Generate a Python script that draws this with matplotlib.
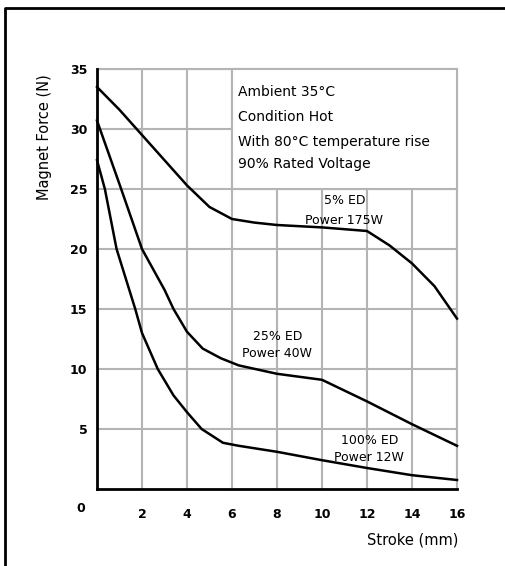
import matplotlib
matplotlib.use('Agg')
import matplotlib.pyplot as plt
from matplotlib.patches import Rectangle
from matplotlib.lines import Line2D

# curve data
stroke5 = [0, 1, 2, 3, 4, 5, 6, 7, 8, 10, 12, 13, 14, 15, 16]
force5 = [33.5, 31.6, 29.5, 27.4, 25.3, 23.5, 22.5, 22.2, 22.0, 21.8, 21.5, 20.3, 18.8, 16.9, 14.2]

stroke25 = [0, 1, 2, 3, 3.4, 4, 4.7, 5.5, 6.3, 8, 10, 12, 14, 16]
force25 = [30.7, 25.4, 20.0, 16.6, 15.0, 13.1, 11.7, 10.9, 10.3, 9.6, 9.1, 7.3, 5.4, 3.6]

stroke100 = [0, 0.35, 0.87, 1.7, 2.0, 2.7, 3.4, 4.0, 4.65, 5.6, 6.3, 8, 10, 12, 14, 16]
force100 = [27.4, 25.0, 20.0, 15.0, 13.0, 10.0, 7.8, 6.4, 5.0, 3.85, 3.6, 3.1, 2.4, 1.75, 1.15, 0.75]

xticks = [2, 4, 6, 8, 10, 12, 14, 16]
yticks = [5, 10, 15, 20, 25, 30, 35]

notes = ['Ambient 35°C', 'Condition Hot', 'With 80°C temperature rise', '90% Rated Voltage']
curve_labels = [('5% ED', 'Power 175W'), ('25% ED', 'Power 40W'), ('100% ED', 'Power 12W')]

W, H = 506, 566
fig = plt.figure(figsize=(W / 100, H / 100), dpi=100)
ax = fig.add_axes([97 / W, 1 - 489 / H, 360 / W, 420 / H])

ax.set_xlim(0, 16)
ax.set_ylim(0, 35)
ax.set_xticks(xticks)
ax.set_yticks(yticks)
ax.set_xticklabels([str(t) for t in xticks], fontsize=9, fontweight='bold')
ax.set_yticklabels([str(t) for t in yticks], fontsize=9, fontweight='bold')
ax.tick_params(axis='x', length=0, pad=14)
ax.tick_params(axis='y', length=0, pad=7)
ax.grid(True, color='#b4b4b4', lw=1.5, zorder=1)
ax.set_axisbelow(True)
for s in ['top', 'right']:
    ax.spines[s].set_visible(False)
for s in ['left', 'bottom']:
    ax.spines[s].set_linewidth(2)
    ax.spines[s].set_zorder(5)
# gray edge lines at top and right
ax.axhline(35, color='#b4b4b4', lw=1.5, zorder=1, clip_on=False)
ax.axvline(16, color='#b4b4b4', lw=1.5, zorder=1, clip_on=False)

# white note box hides the grid
ax.add_patch(Rectangle((6, 25), 10, 10, facecolor='white', edgecolor='#b4b4b4', lw=1.5, zorder=2, clip_on=False))
ny = [33.1, 31.0, 28.9, 27.1]
for t, yy in zip(notes, ny):
    ax.text(6.27, yy, t, fontsize=10, va='center', ha='left', zorder=3)

ax.plot(stroke5, force5, color='black', lw=1.8, zorder=4, clip_on=False)
ax.plot(stroke25, force25, color='black', lw=1.8, zorder=4, clip_on=False)
ax.plot(stroke100, force100, color='black', lw=1.8, zorder=4, clip_on=False)

lab_pos = [(11.0, 24.0, 22.4), (8.02, 12.75, 11.3), (12.1, 4.0, 2.64)]
for (a, b), (lx, y1, y2) in zip(curve_labels, lab_pos):
    ax.text(lx, y1, a, fontsize=9, ha='center', va='center', zorder=3)
    ax.text(lx, y2, b, fontsize=9, ha='center', va='center', zorder=3)

fig.text(81 / W, 1 - 509 / H, '0', fontsize=9, fontweight='bold', ha='center', va='center')
fig.text(45 / W, 1 - 137 / H, 'Magnet Force (N)', fontsize=10.5, rotation=90, ha='center', va='center')
fig.text(413 / W, 1 - 540 / H, 'Stroke (mm)', fontsize=10.5, ha='center', va='center')

# outer frame (left and top visible)
fig.add_artist(Line2D([5 / W, 5 / W, 1.0], [0, 1 - 8 / H, 1 - 8 / H], color='black', lw=2))

fig.savefig('out.png', dpi=100)
